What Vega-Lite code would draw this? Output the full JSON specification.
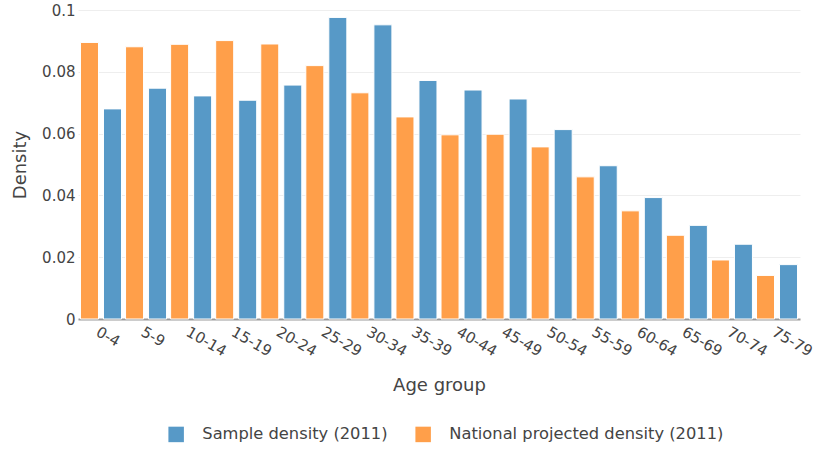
{
  "$schema": "https://vega.github.io/schema/vega-lite/v6.json",
  "width": 722,
  "height": 309,
  "autosize": {"type": "none"},
  "padding": {"left": 78, "top": 10, "right": 21, "bottom": 132},
  "background": "white",
  "config": {
    "view": {"stroke": null},
    "font": "DejaVu Sans",
    "axis": {"labelFont": "DejaVu Sans", "titleFont": "DejaVu Sans", "labelColor": "#444", "titleColor": "#444", "titleFontWeight": "normal"},
    "legend": {"labelFont": "DejaVu Sans", "labelColor": "#444"}
  },
  "data": {
    "values": [
      {"age": "0-4", "series": "Sample density (2011)", "density": 0.0680},
      {"age": "0-4", "series": "National projected density (2011)", "density": 0.0895},
      {"age": "5-9", "series": "Sample density (2011)", "density": 0.0747},
      {"age": "5-9", "series": "National projected density (2011)", "density": 0.0881},
      {"age": "10-14", "series": "Sample density (2011)", "density": 0.0722},
      {"age": "10-14", "series": "National projected density (2011)", "density": 0.0889},
      {"age": "15-19", "series": "Sample density (2011)", "density": 0.0708},
      {"age": "15-19", "series": "National projected density (2011)", "density": 0.0901},
      {"age": "20-24", "series": "Sample density (2011)", "density": 0.0757},
      {"age": "20-24", "series": "National projected density (2011)", "density": 0.0890},
      {"age": "25-29", "series": "Sample density (2011)", "density": 0.0976},
      {"age": "25-29", "series": "National projected density (2011)", "density": 0.0820},
      {"age": "30-34", "series": "Sample density (2011)", "density": 0.0952},
      {"age": "30-34", "series": "National projected density (2011)", "density": 0.0732},
      {"age": "35-39", "series": "Sample density (2011)", "density": 0.0772},
      {"age": "35-39", "series": "National projected density (2011)", "density": 0.0654},
      {"age": "40-44", "series": "Sample density (2011)", "density": 0.0741},
      {"age": "40-44", "series": "National projected density (2011)", "density": 0.0596},
      {"age": "45-49", "series": "Sample density (2011)", "density": 0.0712},
      {"age": "45-49", "series": "National projected density (2011)", "density": 0.0598},
      {"age": "50-54", "series": "Sample density (2011)", "density": 0.0613},
      {"age": "50-54", "series": "National projected density (2011)", "density": 0.0557},
      {"age": "55-59", "series": "Sample density (2011)", "density": 0.0496},
      {"age": "55-59", "series": "National projected density (2011)", "density": 0.0460},
      {"age": "60-64", "series": "Sample density (2011)", "density": 0.0393},
      {"age": "60-64", "series": "National projected density (2011)", "density": 0.0350},
      {"age": "65-69", "series": "Sample density (2011)", "density": 0.0303},
      {"age": "65-69", "series": "National projected density (2011)", "density": 0.0271},
      {"age": "70-74", "series": "Sample density (2011)", "density": 0.0242},
      {"age": "70-74", "series": "National projected density (2011)", "density": 0.0191},
      {"age": "75-79", "series": "Sample density (2011)", "density": 0.0176},
      {"age": "75-79", "series": "National projected density (2011)", "density": 0.0141}
    ]
  },
  "mark": {"type": "bar", "stroke": "white", "strokeWidth": 1, "opacity": 1},
  "encoding": {
    "x": {
      "field": "age", "type": "nominal", "sort": null,
      "scale": {"paddingInner": 0.09, "paddingOuter": 0.055},
      "axis": {
        "title": "Age group", "titleFontSize": 18, "titlePadding": 18,
        "labelAngle": 30, "labelFontSize": 15, "labelPadding": 5,
        "ticks": false, "domainColor": "#999", "domainWidth": 2
      }
    },
    "xOffset": {
      "field": "series", "type": "nominal",
      "scale": {"domain": ["National projected density (2011)", "Sample density (2011)"], "paddingInner": 0.217, "paddingOuter": 0}
    },
    "y": {
      "field": "density", "type": "quantitative",
      "scale": {"domain": [0, 0.1], "nice": false},
      "axis": {
        "title": "Density", "titleFontSize": 18, "titlePadding": 12,
        "values": [0, 0.02, 0.04, 0.06, 0.08, 0.1], "format": "~g",
        "labelFontSize": 15, "labelPadding": 3, "ticks": false, "domain": false,
        "gridColor": "#eee", "gridWidth": 1
      }
    },
    "color": {
      "field": "series", "type": "nominal",
      "scale": {"domain": ["Sample density (2011)", "National projected density (2011)"], "range": ["#5799c7", "#ff9f4a"]},
      "legend": {
        "title": null, "orient": "none", "direction": "horizontal",
        "legendX": 90, "legendY": 416,
        "symbolType": "square", "symbolSize": 240, "symbolStrokeWidth": 0, "symbolOpacity": 1,
        "labelFontSize": 16.3, "labelOffset": 18, "columnPadding": 27, "labelLimit": 0
      }
    }
  }
}
